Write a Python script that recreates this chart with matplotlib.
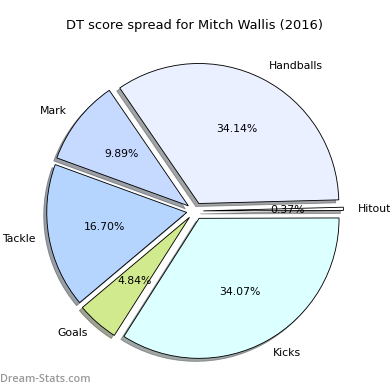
import matplotlib
matplotlib.use("Agg")
import matplotlib.pyplot as plt

# DT score share per stat (percent)
labels = ['Handballs', 'Mark', 'Tackle', 'Goals', 'Kicks', 'Hitout']
shares = [34.14, 9.89, 16.70, 4.84, 34.07, 0.37]
colors = ['#eaf0ff', '#c6d9ff', '#b5d5ff', '#d1ea8d', '#dcffff', '#ffffff']
explode = [0.06] * len(labels)

title = 'DT score spread for Mitch Wallis (2016)'
watermark = 'Dream-Stats.com'

fig = plt.figure(figsize=(5, 5), dpi=78)
ax = fig.add_axes([0.0513, 0.0103, 0.8974, 0.8974])

ax.pie(shares, labels=labels, colors=colors, explode=explode,
       autopct='%1.2f%%', shadow=True, startangle=1.5,
       wedgeprops={'edgecolor': 'black', 'linewidth': 0.8},
       textprops={'fontsize': 10})
ax.set_xlim(-1.25, 1.25)
ax.set_ylim(-1.25, 1.25)
ax.set_aspect('equal')

fig.text(0.5, 1 - 25 / 390, title, ha='center', va='center', fontsize=12)
fig.text(0.0, 1 - 380 / 390, watermark, ha='left', va='center',
         fontsize=10, color='#999999', family='Open Sans', weight='semibold')

fig.savefig('out.png', dpi=78)
